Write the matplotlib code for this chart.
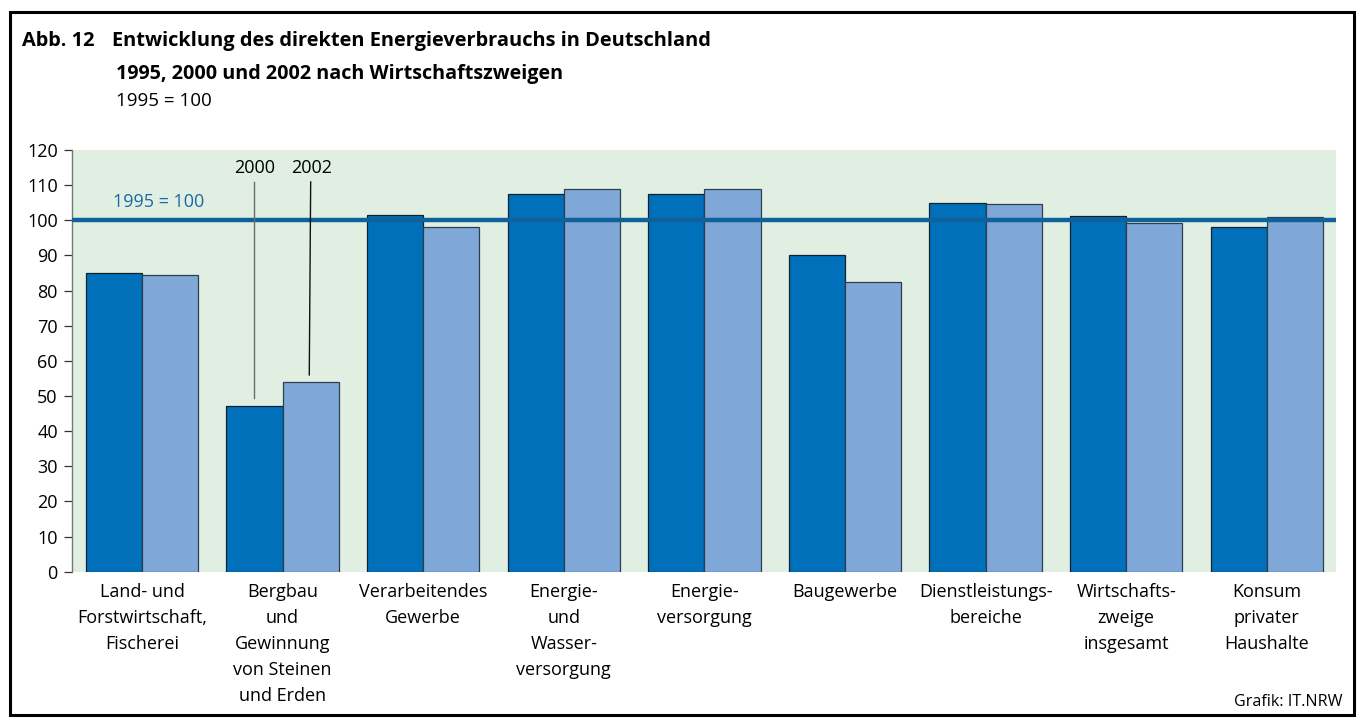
import matplotlib

matplotlib.use("Agg")
import matplotlib.pyplot as plt
import numpy as np
from matplotlib.patches import Rectangle

plt.rcParams["font.family"] = ["Open Sans", "DejaVu Sans"]

categories = [
    "Land- und\nForstwirtschaft,\nFischerei",
    "Bergbau\nund\nGewinnung\nvon Steinen\nund Erden",
    "Verarbeitendes\nGewerbe",
    "Energie-\nund\nWasser-\nversorgung",
    "Energie-\nversorgung",
    "Baugewerbe",
    "Dienstleistungs-\nbereiche",
    "Wirtschafts-\nzweige\ninsgesamt",
    "Konsum\nprivater\nHaushalte",
]
values_2000 = [85.1, 47.1, 101.6, 107.6, 107.6, 90.0, 104.8, 101.1, 98.2]
values_2002 = [84.4, 54.1, 98.2, 109.0, 109.0, 82.4, 104.7, 99.3, 100.8]
y_ticks = list(range(0, 121, 10))
base_value = 100

dark_blue = "#0070ba"
light_blue = "#7fa8d8"
bg_green = "#e1efe3"
line_blue = "#0f6299"

fig = plt.figure(figsize=(13.57, 7.2), dpi=100)
ax = fig.add_axes([0.0528, 0.206, 0.9315, 0.5857])

x = np.arange(len(categories))
width = 0.4
ax.bar(x - width / 2, values_2000, width, color=dark_blue,
       edgecolor="#10212f", linewidth=0.9, zorder=3)
ax.bar(x + width / 2, values_2002, width, color=light_blue,
       edgecolor="#2e3e4e", linewidth=0.9, zorder=3)

ax.axhline(base_value, color=line_blue, linewidth=3.2, zorder=4)
ax.text(-0.204, 105.1, "1995 = 100", color="#1a6aa6", fontsize=13,
        ha="left", va="center", zorder=5)

# leader lines naming the two years on the second group
ax.plot([0.8, 0.8], [110.9, 49.5], color="#6a6a6a", linewidth=1.0, zorder=5)
ax.plot([1.2, 1.19], [110.9, 56.0], color="#111111", linewidth=1.0, zorder=5)
ax.text(0.8, 115.0, "2000", fontsize=13, ha="center", va="center")
ax.text(1.205, 115.0, "2002", fontsize=13, ha="center", va="center")

ax.set_facecolor(bg_green)
ax.set_xlim(-0.5, 8.49)
ax.set_ylim(0, 120)
ax.set_yticks(y_ticks)
ax.tick_params(axis="y", length=6, width=0.9, color="#333333",
               labelsize=13, pad=4)
ax.set_xticks(x)
ax.set_xticklabels(categories, fontsize=13, linespacing=1.58, va="top")
ax.tick_params(axis="x", length=0, pad=8)
for side in ["top", "right", "bottom"]:
    ax.spines[side].set_visible(False)
ax.spines["left"].set_color("#777777")
ax.spines["left"].set_linewidth(1.0)

fig.text(22 / 1357, 1 - 46 / 720, "Abb. 12", fontsize=14.4,
         fontweight="bold", va="baseline")
fig.text(112 / 1357, 1 - 46 / 720,
         "Entwicklung des direkten Energieverbrauchs in Deutschland",
         fontsize=14.4, fontweight="bold", va="baseline")
fig.text(116 / 1357, 1 - 79 / 720,
         "1995, 2000 und 2002 nach Wirtschaftszweigen",
         fontsize=14.2, fontweight="bold", va="baseline")
fig.text(116 / 1357, 1 - 106 / 720, "1995 = 100", fontsize=13.5,
         va="baseline")
fig.text(1342 / 1357, 1 - 705.5 / 720, "Grafik: IT.NRW", fontsize=11.6,
         ha="right", va="baseline")

fig.patches.append(Rectangle((10 / 1357, 5 / 720), 1344 / 1357, 703 / 720,
                             transform=fig.transFigure, fill=False,
                             edgecolor="black", linewidth=2.2))

fig.savefig("out.png", dpi=100)
